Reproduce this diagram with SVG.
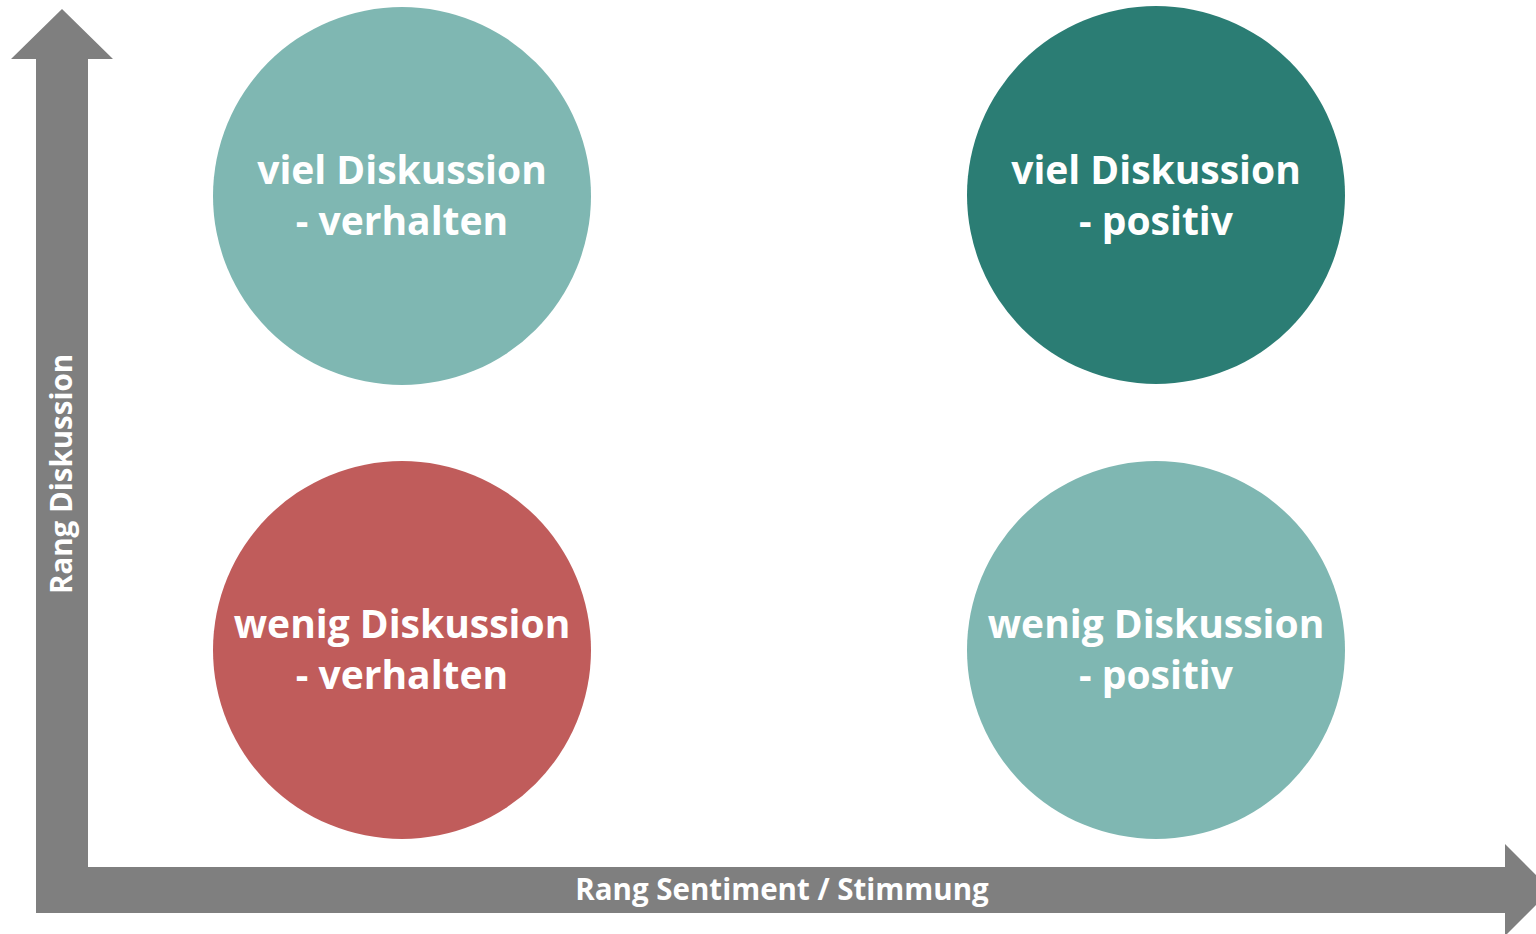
<svg xmlns="http://www.w3.org/2000/svg" width="1536" height="934" viewBox="0 0 1536 934">
<style>
.axis{fill:#7f7f7f}
.lbl{font-family:"Open Sans","Liberation Sans",sans-serif;font-weight:bold;fill:#ffffff;text-anchor:middle}
.node{font-size:39px}
.ax{font-size:29.5px}
.light{fill:#7fb7b2}
.dark{fill:#2b7d74}
.red{fill:#c05c5b}
</style>
<rect width="1536" height="934" fill="#ffffff"/>
<g id="connectors">
<path class="axis" d="M62,9 L113,59 L88,59 L88,867 L1505,867 L1505,844 L1551,890 L1505,936 L1505,913 L36,913 L36,59 L11,59 Z"/>
<text class="lbl ax" x="782" y="900">Rang Sentiment / Stimmung</text>
<text class="lbl ax" transform="translate(72,474) rotate(-90)">Rang Diskussion</text>
</g>
<g id="node-viel-verhalten">
<circle class="light" cx="402" cy="196" r="189"/>
<text class="lbl node" x="402" y="184">viel Diskussion</text>
<text class="lbl node" x="402" y="235">- verhalten</text>
</g>
<g id="node-viel-positiv">
<circle class="dark" cx="1156" cy="195" r="189"/>
<text class="lbl node" x="1156" y="184">viel Diskussion</text>
<text class="lbl node" x="1156" y="235">- positiv</text>
</g>
<g id="node-wenig-verhalten">
<circle class="red" cx="402" cy="650" r="189"/>
<text class="lbl node" x="402" y="638">wenig Diskussion</text>
<text class="lbl node" x="402" y="689">- verhalten</text>
</g>
<g id="node-wenig-positiv">
<circle class="light" cx="1156" cy="650" r="189"/>
<text class="lbl node" x="1156" y="638">wenig Diskussion</text>
<text class="lbl node" x="1156" y="689">- positiv</text>
</g>
</svg>
